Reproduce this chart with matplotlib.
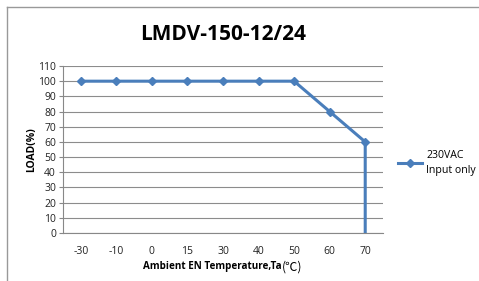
import matplotlib
matplotlib.use("Agg")
import matplotlib.pyplot as plt
from matplotlib.lines import Line2D

plt.rcParams['font.family'] = ['Open Sans', 'Noto Sans CJK SC', 'DejaVu Sans']

categories = ["-30", "-10", "0", "15", "30", "40", "50", "60", "70"]
load = [100, 100, 100, 100, 100, 100, 100, 80, 60]
drop_to = 0
title = "LMDV-150-12/24"
series_name = "230VAC\nInput only"
xlabel_main = "Ambient EN Temperature,Ta"
xlabel_unit = "(℃)"
color = "#4A7EBB"

fig = plt.figure(figsize=(4.79, 2.81), dpi=100)
ax = fig.add_axes([63/479, 1-233/281, 320/479, 167/281])

x = list(range(len(categories)))
ax.plot(x + [x[-1]], load + [drop_to], color=color, lw=2.2, zorder=3)
ax.plot(x, load, color=color, lw=0, marker='D', ms=4.5, zorder=4)

ax.set_xlim(-0.5, len(categories) - 0.5)
ax.set_ylim(0, 110)
ax.set_yticks(range(0, 111, 10))
ax.set_xticks(x)
ax.set_xticklabels(categories)
ax.tick_params(axis='x', length=0, pad=9, labelsize=7.5, colors='#222222')
ax.tick_params(axis='y', length=3, width=0.8, color='#888888', pad=2, labelsize=7.5, labelcolor='#222222')
ax.grid(axis='y', color='#8c8c8c', lw=0.8)
ax.set_axisbelow(True)
for s in ['top', 'right']:
    ax.spines[s].set_visible(False)
ax.spines['left'].set_color('#888888')
ax.spines['bottom'].set_color('#888888')
ax.spines['left'].set_linewidth(0.8)
ax.spines['bottom'].set_linewidth(0.8)

ax.set_ylabel("LOAD(%)", fontsize=7.5, fontweight='bold', labelpad=1)

ylab = 1 - 267/281
fig.text(282/479, ylab, xlabel_main, ha='right', va='center', fontsize=7.1, fontweight='bold')
fig.text(282/479, ylab, xlabel_unit, ha='left', va='center', fontsize=8.8,
         family=['Noto Sans CJK SC', 'DejaVu Sans'])

fig.text(223/479, 1-35/281, title, ha='center', va='center', fontsize=15, fontweight='bold')

handle = Line2D([], [], color=color, lw=2.2, marker='D', ms=4.5)
fig.legend([handle], [series_name], loc='center left', bbox_to_anchor=(398/479, 1-163/281),
           frameon=False, fontsize=7.6, handlelength=2.3, handletextpad=0.4, borderpad=0,
           borderaxespad=0)
for t in fig.legends[0].get_texts():
    t.set_linespacing(1.6)

# outer frame lines
fig.add_artist(Line2D([6.5/479, 6.5/479], [0, 1-7/281], transform=fig.transFigure, color='#999999', lw=1))
fig.add_artist(Line2D([6.5/479, 1], [1-7/281, 1-7/281], transform=fig.transFigure, color='#999999', lw=1))

fig.savefig("out.png", dpi=100)
